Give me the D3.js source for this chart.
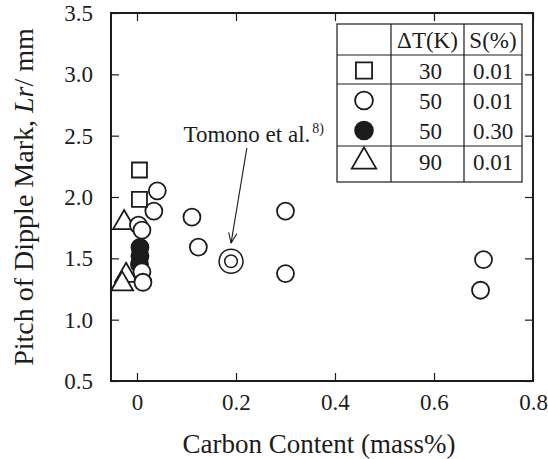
<!DOCTYPE html>
<html>
<head>
<meta charset="utf-8">
<script src="https://cdn.jsdelivr.net/npm/d3@7"></script>
<style>
  html, body { margin: 0; padding: 0; background: #fff; }
  svg { display: block; font-family: "Liberation Serif", "Times New Roman", serif; }
  svg text { font-family: "Liberation Serif", "Times New Roman", serif !important; }
</style>
</head>
<body>
<svg id="chart" width="548" height="459"></svg>
<script>
// ---- data ----
const squareX = [0.005, 0.005];
const squareY = [2.22, 1.98];

const openCircleX = [0.041, 0.034, 0.003, 0.010, 0.010, 0.012, 0.111, 0.124, 0.300, 0.300, 0.700, 0.694];
const openCircleY = [2.05, 1.885, 1.77, 1.73, 1.39, 1.305, 1.836, 1.592, 1.885, 1.376, 1.489, 1.24];

const filledCircleX = [0.006, 0.006, 0.005];
const filledCircleY = [1.59, 1.52, 1.45];

const triangleX = [-0.026, -0.022, -0.030];
const triangleY = [1.79, 1.36, 1.29];

const tomonoX = [0.19];
const tomonoY = [1.476];

const xTicks = [0, 0.2, 0.4, 0.6, 0.8];
const xTickLabels = ["0", "0.2", "0.4", "0.6", "0.8"];
const yTicks = [0.5, 1.0, 1.5, 2.0, 2.5, 3.0, 3.5];
const yTickLabels = ["0.5", "1.0", "1.5", "2.0", "2.5", "3.0", "3.5"];

const legendHeader = ["", "\u0394T(K)", "S(%)"];
const legendSymbols = ["square", "circle", "filled", "triangle"];
const legendDT = ["30", "50", "50", "90"];
const legendS = ["0.01", "0.01", "0.30", "0.01"];

const annotationText = "Tomono et al.";
const annotationRef = "8)";
const arrowFrom = [0.222, 2.40];
const arrowTo = [0.19, 1.624];
const annotationPos = [0.094, 2.445];

// ---- layout ----
const W = 548, H = 459;
const margin = { top: 13, right: 15, bottom: 78, left: 111 };
const ink = "#1c1c1c";
const serif = "Liberation Serif";

const svg = d3.select("#chart");
const x = d3.scaleLinear().domain([-0.0525, 0.8]).range([margin.left, W - margin.right]);
const y = d3.scaleLinear().domain([0.5, 3.5]).range([H - margin.bottom, margin.top]);

const fmtX = v => xTickLabels[xTicks.indexOf(v)];
const fmtY = v => yTickLabels[yTicks.indexOf(v)];

// axes (inward ticks on all four sides)
const tickLen = 8;
const gB = svg.append("g").attr("transform", `translate(0,${y.range()[0]})`)
  .call(d3.axisBottom(x).tickValues(xTicks).tickFormat(fmtX).tickSize(-tickLen).tickPadding(13));
const gT = svg.append("g").attr("transform", `translate(0,${y.range()[1]})`)
  .call(d3.axisTop(x).tickValues(xTicks).tickFormat("").tickSize(-tickLen));
const gL = svg.append("g").attr("transform", `translate(${x.range()[0]},0)`)
  .call(d3.axisLeft(y).tickValues(yTicks).tickFormat(fmtY).tickSize(-tickLen).tickPadding(18));
const gR = svg.append("g").attr("transform", `translate(${x.range()[1]},0)`)
  .call(d3.axisRight(y).tickValues(yTicks).tickFormat("").tickSize(-tickLen));

[gB, gT, gL, gR].forEach(g => {
  g.attr("font-family", serif).attr("font-size", 23);
  g.select(".domain").remove();
  g.selectAll(".tick line").attr("stroke", ink).attr("stroke-width", 1.2);
  g.selectAll(".tick text").attr("fill", ink).style("font-family", serif).style("font-size", "23px");
});

// frame
svg.append("rect")
  .attr("x", x.range()[0]).attr("y", y.range()[1])
  .attr("width", x.range()[1] - x.range()[0]).attr("height", y.range()[0] - y.range()[1])
  .attr("fill", "none").attr("stroke", ink).attr("stroke-width", 2);

// axis titles
svg.append("text")
  .attr("x", (x.range()[0] + x.range()[1]) / 2 - 3).attr("y", 453)
  .attr("text-anchor", "middle").attr("fill", ink).style("font-size", "27px")
  .text("Carbon Content (mass%)");

const yt = svg.append("text")
  .attr("transform", `translate(33,${(y.range()[0] + y.range()[1]) / 2}) rotate(-90)`)
  .attr("text-anchor", "middle").attr("fill", ink).style("font-size", "28px");
yt.append("tspan").text("Pitch of Dipple Mark, ");
yt.append("tspan").style("font-style", "italic").text("Lr");
yt.append("tspan").text("/ mm");

// markers
const sym = (type, size) => d3.symbol().type(type).size(size)();
const markers = svg.append("g");

function drawPoints(xs, ys, type, size, fill) {
  markers.selectAll(null).data(xs.map((v, i) => [v, ys[i]])).enter()
    .append("path")
    .attr("d", sym(type, size))
    .attr("transform", d => `translate(${x(d[0])},${y(d[1])})`)
    .attr("fill", fill).attr("stroke", ink).attr("stroke-width", 1.8);
}

drawPoints(triangleX, triangleY, d3.symbolTriangle, 210, "#fff");
drawPoints(filledCircleX, filledCircleY, d3.symbolCircle, 227, ink);
drawPoints(openCircleX, openCircleY, d3.symbolCircle, 227, "#fff");
drawPoints(squareX, squareY, d3.symbolSquare, 225, "#fff");

// Tomono double circle
tomonoX.forEach((v, i) => {
  markers.append("circle").attr("cx", x(v)).attr("cy", y(tomonoY[i])).attr("r", 12)
    .attr("fill", "#fff").attr("stroke", ink).attr("stroke-width", 1.5);
  markers.append("circle").attr("cx", x(v)).attr("cy", y(tomonoY[i])).attr("r", 6.3)
    .attr("fill", "none").attr("stroke", ink).attr("stroke-width", 1.5);
});

// annotation arrow
const ax1 = x(arrowFrom[0]), ay1 = y(arrowFrom[1]), ax2 = x(arrowTo[0]), ay2 = y(arrowTo[1]);
svg.append("line").attr("x1", ax1).attr("y1", ay1).attr("x2", ax2).attr("y2", ay2)
  .attr("stroke", ink).attr("stroke-width", 1.1);
const ang = Math.atan2(ay1 - ay2, ax1 - ax2);
const headLen = 11, spread = 0.38;
[ang - spread, ang + spread].forEach(a => {
  svg.append("line").attr("x1", ax2).attr("y1", ay2)
    .attr("x2", ax2 + headLen * Math.cos(a)).attr("y2", ay2 + headLen * Math.sin(a))
    .attr("stroke", ink).attr("stroke-width", 1.1);
});

const at = svg.append("text").attr("x", x(annotationPos[0])).attr("y", y(annotationPos[1]))
  .attr("fill", ink).style("font-size", "23px");
at.append("tspan").text(annotationText);
at.append("tspan").attr("dy", -9).attr("dx", 2).style("font-size", "14px").text(annotationRef);

// legend table
const tX = [337, 391, 464, 522];
const rowCenters = [40, 70.5, 100.5, 130.5, 161.5];
const hLines = [24, 55, 84, 146, 182];
const leg = svg.append("g");
leg.append("rect").attr("x", tX[0]).attr("y", hLines[0]).attr("width", tX[3] - tX[0])
  .attr("height", hLines[hLines.length - 1] - hLines[0]).attr("fill", "#fff")
  .attr("stroke", ink).attr("stroke-width", 1.2);
hLines.slice(1, -1).forEach(hy => {
  leg.append("line").attr("x1", tX[0]).attr("x2", tX[3]).attr("y1", hy).attr("y2", hy)
    .attr("stroke", ink).attr("stroke-width", 1.2);
});
[tX[1], tX[2]].forEach(vx => {
  leg.append("line").attr("x1", vx).attr("x2", vx).attr("y1", hLines[0]).attr("y2", hLines[hLines.length - 1])
    .attr("stroke", ink).attr("stroke-width", 1.2);
});
const colCenter = i => (tX[i] + tX[i + 1]) / 2;
legendHeader.forEach((t, i) => {
  leg.append("text").attr("x", colCenter(i)).attr("y", rowCenters[0] + 8)
    .attr("text-anchor", "middle").attr("fill", ink).style("font-size", "23px").text(t);
});
const symMap = {
  square: [d3.symbolSquare, 260, "#fff"],
  circle: [d3.symbolCircle, 250, "#fff"],
  filled: [d3.symbolCircle, 250, ink],
  triangle: [d3.symbolTriangle, 260, "#fff"]
};
legendSymbols.forEach((s, i) => {
  const cy = rowCenters[i + 1];
  const [type, size, fill] = symMap[s];
  leg.append("path").attr("d", sym(type, size))
    .attr("transform", `translate(${colCenter(0)},${cy})`)
    .attr("fill", fill).attr("stroke", ink).attr("stroke-width", 1.8);
  leg.append("text").attr("x", colCenter(1) + 3).attr("y", cy + 8)
    .attr("text-anchor", "middle").attr("fill", ink).style("font-size", "23px").text(legendDT[i]);
  leg.append("text").attr("x", colCenter(2)).attr("y", cy + 8)
    .attr("text-anchor", "middle").attr("fill", ink).style("font-size", "23px").text(legendS[i]);
});
</script>
</body>
</html>
